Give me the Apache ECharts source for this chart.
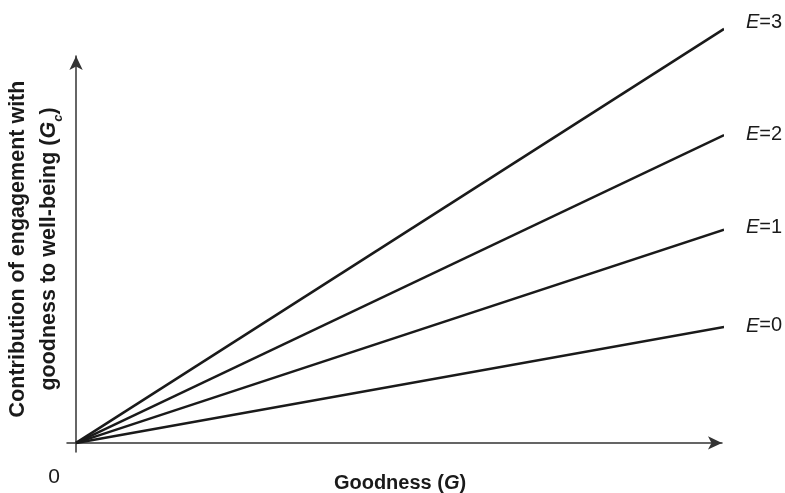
<!DOCTYPE html>
<html>
<head>
<meta charset="utf-8">
<script src="https://cdn.jsdelivr.net/npm/echarts@6/dist/echarts.min.js"></script>
<style>
html,body{margin:0;padding:0;background:#fff;}
#chart{width:785px;height:493px;}
</style>
</head>
<body>
<div id="chart"></div>
<script>
// Data
const goodness = [0, 10];
const gcE0 = [0, 1.79];
const gcE1 = [0, 3.29];
const gcE2 = [0, 4.75];
const gcE3 = [0, 6.39];
const seriesNames = ['E=0', 'E=1', 'E=2', 'E=3'];
const seriesValues = [gcE0, gcE1, gcE2, gcE3];
const labelOffsets = [[14, -1], [14, -2], [14, -1], [14, -6]];

const FONT = '"Liberation Sans", Arial, Helvetica, sans-serif';
const INK = '#1a1a1a';

const chart = echarts.init(document.getElementById('chart'), null, {renderer: 'canvas'});

const series = seriesNames.map((name, i) => ({
  name: name,
  type: 'line',
  data: goodness.map((g, j) => [g, seriesValues[i][j]]),
  symbol: 'none',
  clip: false,
  lineStyle: {color: INK, width: 2.5},
  itemStyle: {color: INK},
  endLabel: {
    show: true,
    offset: labelOffsets[i],
    formatter: () => '{i|E}{n|=' + name.split('=')[1] + '}',
    rich: {
      i: {fontFamily: FONT, fontSize: 20, fontStyle: 'italic', color: INK},
      n: {fontFamily: FONT, fontSize: 20, color: INK}
    }
  }
}));

chart.setOption({
  animation: false,
  backgroundColor: '#fff',
  grid: {left: 67, right: 63, top: 56, bottom: 41},
  xAxis: {
    type: 'value',
    min: -0.14,
    max: 9.968,
    axisLine: {show: true, onZero: true, symbol: ['none', 'arrow'], symbolSize: [10, 14],
      lineStyle: {color: '#333', width: 1.5}},
    axisTick: {show: false},
    axisLabel: {show: false},
    splitLine: {show: false}
  },
  yAxis: {
    type: 'value',
    min: -0.14,
    max: 5.971,
    axisLine: {show: true, onZero: true, symbol: ['none', 'arrow'], symbolSize: [10, 14],
      lineStyle: {color: '#333', width: 1.5}},
    axisTick: {show: false},
    axisLabel: {show: false},
    splitLine: {show: false}
  },
  series: series,
  graphic: [
    {
      type: 'text',
      x: 54, y: 477,
      style: {text: '0', font: '21px ' + FONT, fill: INK, align: 'center', verticalAlign: 'middle'}
    },
    {
      type: 'text',
      x: 400, y: 483,
      style: {
        text: '{b|Goodness (}{g|G}{b|)}',
        align: 'center', verticalAlign: 'middle',
        rich: {
          b: {fontFamily: FONT, fontSize: 20, fontWeight: 'bold', fill: INK, color: INK},
          g: {fontFamily: FONT, fontSize: 20, fontWeight: 'bold', fontStyle: 'italic', fill: INK, color: INK}
        }
      }
    },
    {
      type: 'text',
      x: 34, y: 249,
      rotation: Math.PI / 2,
      style: {
        text: '{b|Contribution of engagement with}\n{b|goodness to well-being (}{g|G}{s|c}{b|)}',
        align: 'center', verticalAlign: 'middle',
        rich: {
          b: {fontFamily: FONT, fontSize: 21.5, fontWeight: 'bold', lineHeight: 31, fill: INK, color: INK},
          g: {fontFamily: FONT, fontSize: 21.5, fontWeight: 'bold', fontStyle: 'italic', lineHeight: 31, fill: INK, color: INK},
          s: {fontFamily: FONT, fontSize: 13, fontWeight: 'bold', fontStyle: 'italic', lineHeight: 14, verticalAlign: 'bottom', fill: INK, color: INK}
        }
      }
    }
  ]
});
</script>
</body>
</html>
